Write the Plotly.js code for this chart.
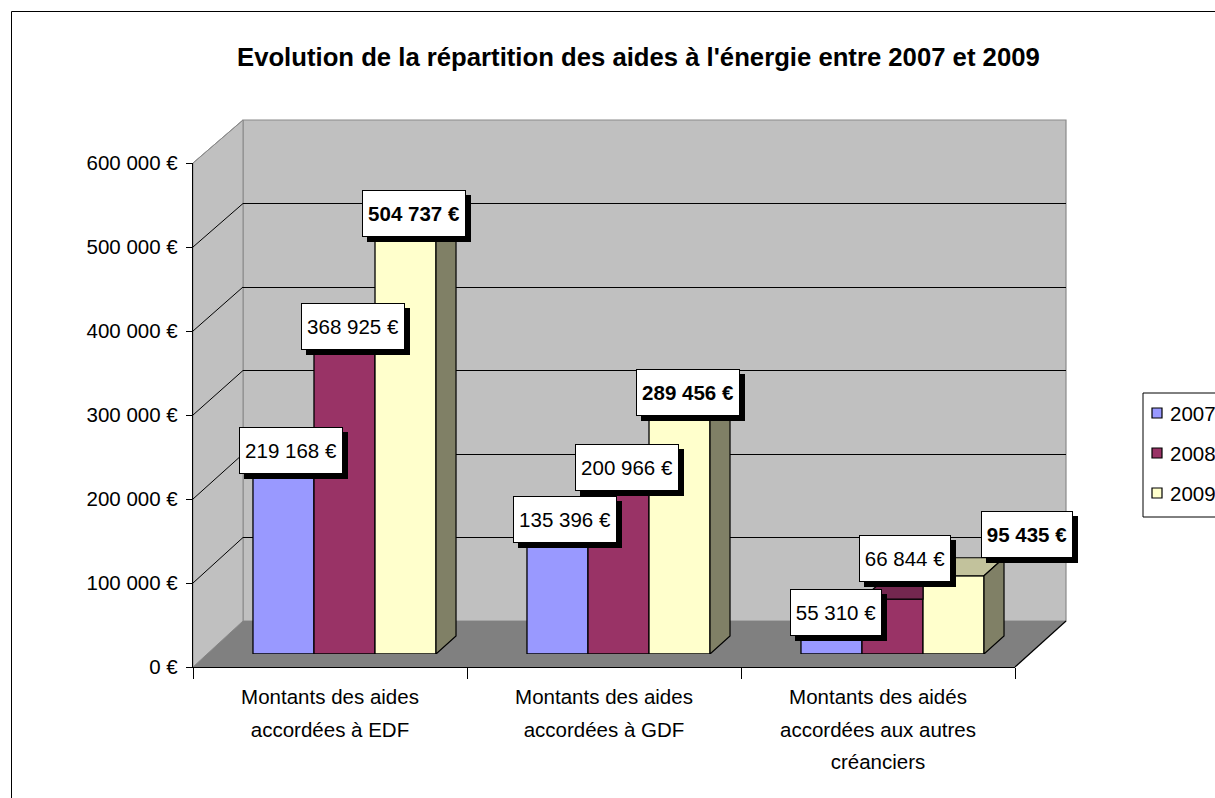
<!DOCTYPE html>
<html>
<head>
<meta charset="utf-8">
<script src="https://cdn.plot.ly/plotly-3.0.1.min.js"></script>
<style>html,body{margin:0;padding:0;background:#fff;overflow:hidden;}#chart{width:1215px;height:798px;}</style>
</head>
<body>
<div id="chart"></div>
<script>
// ---------------- DATA ----------------
const categories = [
  ["Montants des aides", "accordées à EDF"],
  ["Montants des aides", "accordées à GDF"],
  ["Montants des aidés", "accordées aux autres", "créanciers"]
];
const years = ["2007", "2008", "2009"];
const values2007 = [219168, 135396, 55310];
const values2008 = [368925, 200966, 66844];
const values2009 = [504737, 289456, 95435];
const yTickVals = [0, 100000, 200000, 300000, 400000, 500000, 600000];
const yTickText = ["0 €", "100 000 €", "200 000 €", "300 000 €", "400 000 €", "500 000 €", "600 000 €"];
const chartTitle = "Evolution de la répartition des aides à l'énergie entre 2007 et 2009";

// ---------------- STYLE / GEOMETRY ----------------
const W = 1215, H = 798;
const FONT = "Liberation Sans, Arial, sans-serif";
const TXT = 20.5;
const frontBox = {l: 193, r: 1015, t: 163, b: 667};
const backBox  = {l: 243, r: 1066, t: 120, b: 621};
const barBox   = {l: 207.5, r: 1029.5, t: 162, b: 654};
const depthPx = {dx: 20, dy: 18};
const yMax = 600000;
const bargap = 0.332;
const frontColors = ["#9999ff", "#993366", "#ffffcc"];
const topColors   = ["#7676c8", "#74274f", "#c2c29c"];
const sideColors  = ["#6a6ab0", "#6b2348", "#808066"];
// label offsets in px (dx right, dy up) from top-centre of each bar's front face
const labelOffsets = [
  [[8, 24], [8, 25], [8, 27]],
  [[8, 23], [8, 22], [8, 24]],
  [[5, -4], [12, 41], [73, 41]]
];
const labelBox = {pad: 4, border: 1, height: 37, shadow: 5};
const legendBox = {l: 1143, t: 393, b: 517, rowY: [413, 453, 493], sq: [1152, 1162], textX: 1168};

const px = x => x / W;
const py = y => 1 - y / H;
const fmt = v => String(v).replace(/\B(?=(\d{3})+(?!\d))/g, " ") + " €";
const ctx = document.createElement("canvas").getContext("2d");
const textWidth = (t, bold) => { ctx.font = (bold ? "bold " : "") + TXT + "px " + FONT; return Math.ceil(ctx.measureText(t).width) + 2; };

const series = [values2007, values2008, values2009];
const nCat = categories.length;
const nSer = series.length;
const barW = (1 - bargap) / nSer;
const ddx = depthPx.dx / ((barBox.r - barBox.l) / nCat);
const ddy = depthPx.dy / (barBox.b - barBox.t) * yMax;
const idx = categories.map((_, i) => i);
const catText = categories.map(lines => lines.map(l => `<span style="font-size:${TXT}px">${l}</span>`).join("<br>"));

const traces = [];
traces.push({type: "scatter", mode: "none", x: idx, y: values2009, xaxis: "x", yaxis: "y", showlegend: false, hoverinfo: "skip"});
traces.push({type: "scatter", mode: "none", x: idx, y: values2009, xaxis: "x2", yaxis: "y2", showlegend: false, hoverinfo: "skip"});
series.forEach((vals, j) => {
  traces.push({
    type: "bar", name: years[j], x: idx, y: vals,
    xaxis: "x3", yaxis: "y3",
    marker: {color: frontColors[j], line: {color: "#000", width: 1.3}},
    hoverinfo: "skip", showlegend: false
  });
});
series.forEach((vals, j) => {
  vals.forEach((v, i) => {
    const xl = i + (j - (nSer - 1) / 2) * barW - barW / 2;
    const xr = xl + barW;
    const last = j === nSer - 1;
    const topX = last ? [xl, xr, xr + ddx, xl + ddx, xl] : [xl, xr, xr, xl + ddx, xl];
    const topY = [v, v, v + ddy, v + ddy, v];
    traces.push({
      type: "scatter", mode: "lines", x: topX, y: topY, fill: "toself",
      fillcolor: topColors[j], line: {color: "#000", width: 1.2},
      xaxis: "x3", yaxis: "y3", showlegend: false, hoverinfo: "skip"
    });
    if (last) {
      traces.push({
        type: "scatter", mode: "lines",
        x: [xr, xr + ddx, xr + ddx, xr, xr], y: [0, ddy, v + ddy, v, 0],
        fill: "toself", fillcolor: sideColors[j], line: {color: "#000", width: 1.2},
        xaxis: "x3", yaxis: "y3", showlegend: false, hoverinfo: "skip"
      });
    }
  });
});

// ---------------- SHAPES ----------------
const shapes = [];
const fy = v => py(frontBox.b - v / yMax * (frontBox.b - frontBox.t));
const by = v => py(backBox.b - v / yMax * (backBox.b - backBox.t));
shapes.push({type: "rect", xref: "paper", yref: "paper", x0: px(11.5), x1: 1.05, y0: -0.05, y1: py(11.5),
  line: {color: "#000", width: 1}, fillcolor: "rgba(0,0,0,0)", layer: "below"});
shapes.push({type: "rect", xref: "paper", yref: "paper", x0: px(backBox.l), x1: px(backBox.r), y0: py(backBox.b), y1: py(backBox.t),
  line: {color: "#8a8a8a", width: 1.2}, fillcolor: "#c0c0c0", layer: "below"});
shapes.push({type: "path", xref: "paper", yref: "paper",
  path: `M${px(frontBox.l)},${py(frontBox.b)} L${px(backBox.l)},${py(backBox.b)} L${px(backBox.l)},${py(backBox.t)} L${px(frontBox.l)},${py(frontBox.t)} Z`,
  line: {color: "#8a8a8a", width: 1}, fillcolor: "#c0c0c0", layer: "below"});
shapes.push({type: "path", xref: "paper", yref: "paper",
  path: `M${px(frontBox.l)},${py(frontBox.b)} L${px(frontBox.r)},${py(frontBox.b)} L${px(backBox.r)},${py(backBox.b)} L${px(backBox.l)},${py(backBox.b)} Z`,
  line: {width: 0}, fillcolor: "#808080", layer: "below"});
shapes.push({type: "line", xref: "paper", yref: "paper", x0: px(frontBox.r), y0: py(frontBox.b), x1: px(backBox.r), y1: py(backBox.b),
  line: {color: "#000", width: 1.2}, layer: "below"});
yTickVals.slice(1).forEach(v => {
  shapes.push({type: "line", xref: "paper", yref: "paper", x0: px(frontBox.l), y0: fy(v), x1: px(backBox.l), y1: by(v),
    line: {color: v === yMax ? "#8a8a8a" : "#000", width: 1}, layer: "below"});
});
shapes.push({type: "rect", xref: "paper", yref: "paper", x0: px(legendBox.l), x1: 1.05, y0: py(legendBox.b), y1: py(legendBox.t),
  line: {color: "#000", width: 1}, fillcolor: "#fff", layer: "above"});
years.forEach((yr, j) => {
  const cy = legendBox.rowY[j];
  const half = (legendBox.sq[1] - legendBox.sq[0]) / 2;
  shapes.push({type: "rect", xref: "paper", yref: "paper", x0: px(legendBox.sq[0]), x1: px(legendBox.sq[1]),
    y0: py(cy + half), y1: py(cy - half), line: {color: "#000", width: 1.2}, fillcolor: frontColors[j], layer: "above"});
});

// ---------------- TEXT ----------------
const annotations = [];
annotations.push({xref: "paper", yref: "paper", x: px(638), y: py(57), xanchor: "center", yanchor: "middle",
  text: "<b>" + chartTitle + "</b>", showarrow: false, font: {family: FONT, size: 25.7, color: "#000"}});
years.forEach((yr, j) => {
  annotations.push({xref: "paper", yref: "paper", x: px(legendBox.textX), y: py(legendBox.rowY[j]), xanchor: "left", yanchor: "middle",
    text: yr, showarrow: false, font: {family: FONT, size: TXT, color: "#000"}});
});
series.forEach((vals, j) => {
  vals.forEach((v, i) => {
    const xc = i + (j - (nSer - 1) / 2) * barW;
    const off = labelOffsets[i][j];
    const bold = j === nSer - 1;
    const label = fmt(v);
    const txt = bold ? "<b>" + label + "</b>" : label;
    const base = {xref: "x3", yref: "y3", x: xc, y: v, showarrow: false, xanchor: "center", yanchor: "middle",
      borderpad: labelBox.pad, borderwidth: labelBox.border, height: labelBox.height, width: textWidth(label, bold),
      valign: "middle", align: "center", font: {family: FONT, size: TXT, color: "#000"}};
    // drop shadow box (no text)
    annotations.push(Object.assign({}, base, {text: " ", xshift: off[0] + labelBox.shadow, yshift: off[1] - labelBox.shadow,
      bgcolor: "#000", bordercolor: "#000"}));
    annotations.push(Object.assign({}, base, {text: txt, xshift: off[0], yshift: off[1],
      bgcolor: "#fff", bordercolor: "#000"}));
  });
});

const layout = {
  width: W, height: H,
  margin: {l: 0, r: 0, t: 0, b: 0, pad: 0},
  paper_bgcolor: "#fff", plot_bgcolor: "rgba(0,0,0,0)",
  font: {family: FONT, size: TXT, color: "#000"},
  barmode: "group", bargap: bargap, bargroupgap: 0,
  showlegend: false,
  xaxis: {domain: [px(frontBox.l), px(frontBox.r)], range: [-0.5, nCat - 0.5], anchor: "y", type: "linear",
    tickmode: "array", tickvals: idx, ticktext: catText, ticks: "", showgrid: false, zeroline: false,
    showline: true, linecolor: "#000", linewidth: 1.2, tickfont: {family: FONT, size: 25}, ticklabelstandoff: 6,
    minor: {tickmode: "array", tickvals: [-0.5, 0.5, 1.5, 2.5], ticks: "outside", ticklen: 11, tickcolor: "#000", showgrid: false},
    fixedrange: true},
  yaxis: {domain: [py(frontBox.b), py(frontBox.t)], range: [0, yMax], anchor: "x",
    tickmode: "array", tickvals: yTickVals, ticktext: yTickText, ticks: "outside", ticklen: 6, tickcolor: "#000",
    showgrid: false, zeroline: false, showline: true, linecolor: "#000", linewidth: 1.2,
    tickfont: {family: FONT, size: TXT}, ticklabelstandoff: 4, fixedrange: true},
  xaxis2: {domain: [px(backBox.l), px(backBox.r)], range: [-0.5, nCat - 0.5], anchor: "y2",
    showticklabels: false, ticks: "", showgrid: false, zeroline: false, showline: false},
  yaxis2: {domain: [py(backBox.b), py(backBox.t)], range: [0, yMax], anchor: "x2",
    tickmode: "array", tickvals: yTickVals.slice(1, -1), showticklabels: false, ticks: "",
    showgrid: true, gridcolor: "#000", gridwidth: 1, zeroline: false, showline: false},
  xaxis3: {domain: [px(barBox.l), px(barBox.r)], range: [-0.5, nCat - 0.5], anchor: "y3", visible: false},
  yaxis3: {domain: [py(barBox.b), py(barBox.t)], range: [0, yMax], anchor: "x3", visible: false},
  shapes: shapes,
  annotations: annotations
};

Plotly.newPlot("chart", traces, layout, {displayModeBar: false, staticPlot: true});
</script>
</body>
</html>
